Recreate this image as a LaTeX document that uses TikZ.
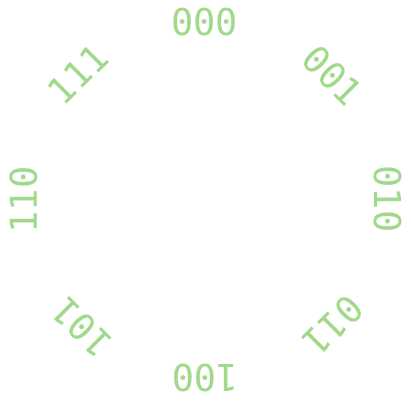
\documentclass[tikz,border=0pt]{standalone}
\usepackage{fontspec}
\newfontfamily\labfont{DejaVu Sans Mono}
\definecolor{labgreen}{RGB}{161,217,139}
\tikzset{
  lab/.style={inner sep=0pt, anchor=center, text=labgreen, font=\labfont\fontsize{37}{40}\selectfont}
}
\begin{document}
\begin{tikzpicture}[x=1pt,y=-1pt]
\useasboundingbox (0,0) rectangle (411,404);
\node[lab, rotate=0]    (n000) at (204.5,22.5) {000};
\node[lab, rotate=-45]  (n001) at (332.5,75.5) {001};
\node[lab, rotate=-90]  (n010) at (387.5,199) {010};
\node[lab, rotate=-135] (n011) at (333,325.5) {011};
\node[lab, rotate=180]  (n100) at (205.5,378) {100};
\node[lab, rotate=135]  (n101) at (82,327.5) {101};
\node[lab, rotate=90]   (n110) at (23.5,200) {110};
\node[lab, rotate=45]   (n111) at (78,74.5) {111};
\end{tikzpicture}
\end{document}
